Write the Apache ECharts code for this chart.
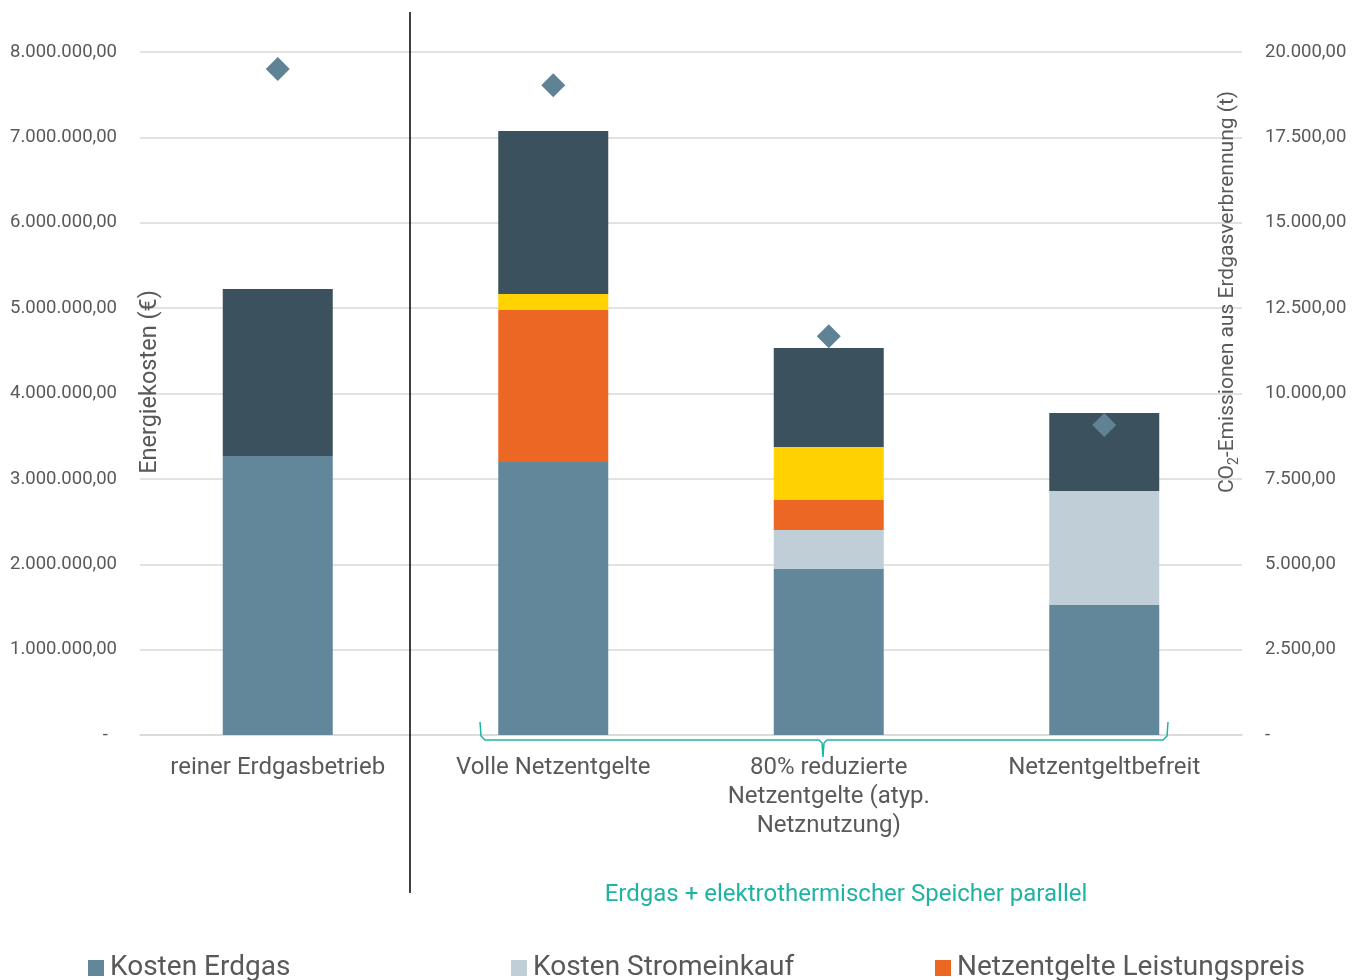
<!DOCTYPE html>
<html>
<head>
<meta charset="utf-8">
<script src="https://cdn.jsdelivr.net/npm/echarts@6/dist/echarts.min.js"></script>
<style>
  html, body { margin: 0; padding: 0; background: #fff; }
  #chart { width: 1360px; height: 980px; }
</style>
</head>
<body>
<div id="chart"></div>
<script>
// Scenarios
const categories = [
  'reiner Erdgasbetrieb',
  'Volle Netzentgelte',
  '80% reduzierte\nNetzentgelte (atyp.\nNetznutzung)',
  'Netzentgeltbefreit'
];

// Energy cost components (€)
const kostenErdgas = [3268000, 3198000, 1944000, 1523000];
const kostenStrom = [0, 0, 457000, 1335000];
const netzLeistung = [0, 1780000, 351000, 0];
const netzArbeit = [0, 187000, 621000, 0];
const sonstige = [1956000, 1909000, 1160000, 914000];

// CO2 emissions from gas combustion (t)
const co2 = [19500, 19030, 11680, 9080];

const leftTicks = { min: 0, max: 8000000, interval: 1000000 };
const rightTicks = { min: 0, max: 20000, interval: 2500 };

const FONT = 'Roboto';
const GREY_TEXT = '#595959';
const TEAL = '#1fb3a4';

function deNumber(v) {
  return v.toLocaleString('de-DE', { minimumFractionDigits: 2, maximumFractionDigits: 2 });
}

const chart = echarts.init(document.getElementById('chart'));

const barBase = { type: 'bar', stack: 'kosten', barWidth: 110, yAxisIndex: 0 };

const legendText = { fontSize: 28, color: GREY_TEXT, fontFamily: FONT, padding: [0, 0, 0, 1] };
const legendBase = { top: 949, itemWidth: 16, itemHeight: 16, icon: 'rect', textStyle: legendText };

chart.setOption({
  animation: false,
  textStyle: { fontFamily: FONT },
  grid: { left: 140, right: 118, top: 52, bottom: 245 },
  legend: [
    Object.assign({ data: ['Kosten Erdgas'], left: 83 }, legendBase),
    Object.assign({ data: ['Kosten Stromeinkauf'], left: 506 }, legendBase),
    Object.assign({ data: ['Netzentgelte Leistungspreis'], left: 930 }, legendBase)
  ],
  xAxis: {
    type: 'category',
    data: categories,
    axisTick: { show: false },
    axisLine: { lineStyle: { color: '#d9d9d9', width: 1.5 } },
    axisLabel: { fontSize: 24, color: GREY_TEXT, margin: 18, lineHeight: 29, interval: 0, fontFamily: FONT }
  },
  yAxis: [
    {
      type: 'value', min: leftTicks.min, max: leftTicks.max, interval: leftTicks.interval,
      axisLine: { show: false }, axisTick: { show: false },
      splitLine: { lineStyle: { color: '#d9d9d9', width: 1.5 } },
      axisLabel: { fontSize: 18.5, color: GREY_TEXT, margin: 23, fontFamily: FONT,
        formatter: v => v === 0 ? '-  ' : deNumber(v) }
    },
    {
      type: 'value', min: rightTicks.min, max: rightTicks.max, interval: rightTicks.interval,
      position: 'right',
      axisLine: { show: false }, axisTick: { show: false }, splitLine: { show: false },
      axisLabel: { fontSize: 18.5, color: GREY_TEXT, margin: 23, fontFamily: FONT,
        formatter: v => v === 0 ? '-' : deNumber(v) }
    }
  ],
  series: [
    Object.assign({ name: 'Kosten Erdgas', data: kostenErdgas, itemStyle: { color: '#62869a' } }, barBase),
    Object.assign({ name: 'Kosten Stromeinkauf', data: kostenStrom, itemStyle: { color: '#c0cfd7' } }, barBase),
    Object.assign({ name: 'Netzentgelte Leistungspreis', data: netzLeistung, itemStyle: { color: '#ec6624' } }, barBase),
    Object.assign({ name: 'Netzentgelte Arbeitspreis', data: netzArbeit, itemStyle: { color: '#ffd200' } }, barBase),
    Object.assign({ name: 'Sonstige Kosten', data: sonstige, itemStyle: { color: '#3b525e' } }, barBase),
    {
      name: 'CO2-Emissionen', type: 'scatter', yAxisIndex: 1, data: co2,
      symbol: 'diamond', symbolSize: [24, 24], z: 5,
      itemStyle: { color: '#5f8394', opacity: 1 }
    }
  ],
  graphic: [
    // separator between reference and storage scenarios
    { type: 'line', shape: { x1: 410, y1: 12, x2: 410, y2: 893 },
      style: { stroke: '#000', lineWidth: 1.5 }, z: 10 },
    // curly bracket grouping the storage scenarios
    { type: 'polyline', z: 10,
      shape: { points: [[480, 722], [481, 736], [485, 740], [819, 740], [822, 743], [823, 757],
                        [824, 743], [827, 740], [1163, 740], [1167, 736], [1168, 722]] },
      style: { stroke: TEAL, lineWidth: 1.5, fill: null } },
    { type: 'text', x: 846, y: 895, z: 10,
      style: { text: 'Erdgas + elektrothermischer Speicher parallel', fontSize: 24, fill: TEAL,
               fontFamily: FONT, align: 'center', verticalAlign: 'middle' } },
    // left axis title
    { type: 'text', x: 150, y: 382, rotation: Math.PI / 2, z: 10,
      style: { text: 'Energiekosten (€)', fontSize: 23.5, fill: GREY_TEXT, fontFamily: FONT,
               align: 'center', verticalAlign: 'middle' } },
    // right axis title
    { type: 'text', x: 1228, y: 292, rotation: Math.PI / 2, z: 10,
      style: { text: '{n|CO}{s|2}{n|-Emissionen aus Erdgasverbrennung (t)}', fontFamily: FONT,
               align: 'center', verticalAlign: 'middle',
               rich: {
                 n: { fontSize: 21, fill: GREY_TEXT, fontFamily: FONT },
                 s: { fontSize: 14, fill: GREY_TEXT, fontFamily: FONT, padding: [12, 0, 0, 0] }
               } } }
  ]
});
</script>
</body>
</html>
